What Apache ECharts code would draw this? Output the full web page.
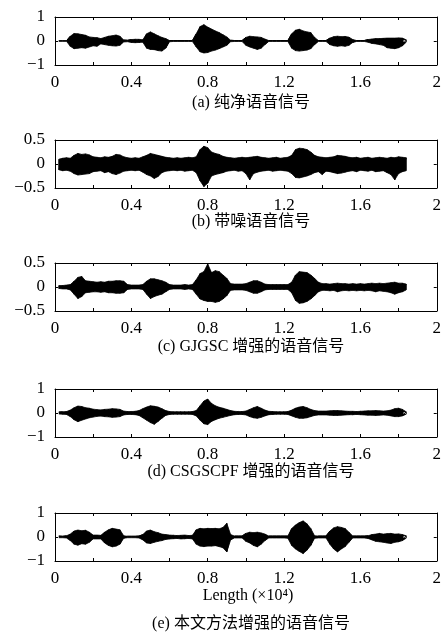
<!DOCTYPE html>
<html>
<head>
<meta charset="utf-8">
<script src="https://cdn.jsdelivr.net/npm/echarts@6/dist/echarts.min.js"></script>
<style>
html,body{margin:0;padding:0;background:#fff;}
#chart{width:444px;height:641px;}
</style>
</head>
<body>
<div id="chart"></div>
<script>
// Sample positions (x, in units of 10^4 samples)
const sampleX = [
  0.02,0.04,0.06,0.08,0.10,0.12,0.14,0.16,0.18,0.20,
  0.22,0.24,0.26,0.28,0.30,0.32,0.34,0.36,0.38,0.40,
  0.42,0.44,0.46,0.48,0.50,0.52,0.54,0.56,0.58,0.60,
  0.62,0.64,0.66,0.68,0.70,0.72,0.74,0.76,0.78,0.80,
  0.82,0.84,0.86,0.88,0.90,0.92,0.94,0.96,0.98,1.00,
  1.02,1.04,1.06,1.08,1.10,1.12,1.14,1.16,1.18,1.20,
  1.22,1.24,1.26,1.28,1.30,1.32,1.34,1.36,1.38,1.40,
  1.42,1.44,1.46,1.48,1.50,1.52,1.54,1.56,1.58,1.60,
  1.62,1.64,1.66,1.68,1.70,1.72,1.74,1.76,1.78,1.80,
  1.82,1.84
];

// (a) clean speech: upper / lower envelope
const cleanUpper = [
  0.01,0.01,0.01,0.20,0.31,0.30,0.27,0.24,0.17,0.15,
  0.14,0.10,0.15,0.20,0.22,0.25,0.20,0.04,0.03,0.06,
  0.07,0.07,0.05,0.30,0.38,0.30,0.22,0.15,0.10,0.02,
  0.02,0.02,0.02,0.02,0.02,0.02,0.30,0.60,0.68,0.58,
  0.50,0.42,0.35,0.26,0.17,0.03,0.02,0.02,0.02,0.15,
  0.20,0.18,0.17,0.15,0.08,0.02,0.02,0.02,0.02,0.02,
  0.02,0.30,0.45,0.49,0.42,0.38,0.35,0.15,0.02,0.02,
  0.02,0.12,0.18,0.20,0.18,0.19,0.16,0.06,0.02,0.02,
  0.02,0.06,0.08,0.10,0.10,0.11,0.12,0.12,0.12,0.13,
  0.12,0.05
];
const cleanLower = [
  -0.01,-0.01,-0.01,-0.22,-0.32,-0.30,-0.28,-0.30,-0.25,-0.20,
  -0.22,-0.12,-0.15,-0.18,-0.20,-0.21,-0.18,-0.04,-0.03,-0.06,
  -0.07,-0.06,-0.05,-0.30,-0.35,-0.36,-0.40,-0.42,-0.30,-0.03,
  -0.02,-0.02,-0.02,-0.02,-0.02,-0.02,-0.25,-0.45,-0.50,-0.48,
  -0.42,-0.38,-0.32,-0.25,-0.18,-0.03,-0.02,-0.02,-0.02,-0.18,
  -0.25,-0.30,-0.35,-0.30,-0.15,-0.02,-0.02,-0.02,-0.02,-0.02,
  -0.02,-0.30,-0.40,-0.42,-0.40,-0.38,-0.32,-0.15,-0.02,-0.02,
  -0.02,-0.15,-0.20,-0.22,-0.20,-0.22,-0.18,-0.06,-0.02,-0.02,
  -0.02,-0.05,-0.10,-0.12,-0.15,-0.18,-0.28,-0.30,-0.32,-0.28,
  -0.20,-0.05
];

// (b) noisy speech
const noisyUpper = [
  0.10,0.12,0.13,0.12,0.18,0.22,0.20,0.21,0.19,0.15,
  0.14,0.13,0.15,0.14,0.16,0.20,0.19,0.15,0.13,0.12,
  0.13,0.12,0.15,0.18,0.22,0.20,0.18,0.16,0.14,0.13,
  0.12,0.13,0.12,0.13,0.14,0.13,0.15,0.30,0.37,0.34,
  0.25,0.22,0.20,0.16,0.14,0.13,0.12,0.13,0.14,0.13,
  0.14,0.15,0.16,0.14,0.13,0.12,0.13,0.14,0.12,0.13,
  0.14,0.18,0.30,0.33,0.32,0.30,0.25,0.18,0.15,0.14,
  0.13,0.14,0.15,0.18,0.17,0.16,0.14,0.13,0.14,0.12,
  0.13,0.14,0.12,0.13,0.14,0.13,0.12,0.14,0.13,0.15,
  0.14,0.13
];
const noisyLower = [
  -0.12,-0.14,-0.13,-0.15,-0.20,-0.23,-0.22,-0.21,-0.20,-0.16,
  -0.15,-0.14,-0.18,-0.16,-0.20,-0.22,-0.19,-0.15,-0.14,-0.13,
  -0.14,-0.13,-0.17,-0.22,-0.25,-0.30,-0.26,-0.18,-0.15,-0.14,
  -0.13,-0.14,-0.13,-0.15,-0.14,-0.13,-0.18,-0.35,-0.47,-0.40,
  -0.25,-0.22,-0.20,-0.18,-0.15,-0.14,-0.13,-0.15,-0.14,-0.20,
  -0.33,-0.20,-0.17,-0.15,-0.14,-0.13,-0.15,-0.14,-0.13,-0.14,
  -0.15,-0.20,-0.28,-0.29,-0.27,-0.25,-0.22,-0.18,-0.16,-0.22,
  -0.15,-0.16,-0.18,-0.20,-0.19,-0.17,-0.15,-0.14,-0.16,-0.13,
  -0.14,-0.15,-0.13,-0.16,-0.15,-0.14,-0.18,-0.22,-0.33,-0.20,
  -0.16,-0.14
];

// (c) GJGSC enhanced
const gjgscUpper = [
  0.03,0.03,0.04,0.05,0.12,0.20,0.22,0.13,0.12,0.11,
  0.10,0.11,0.10,0.12,0.12,0.13,0.13,0.12,0.05,0.04,
  0.04,0.04,0.05,0.12,0.17,0.17,0.15,0.13,0.10,0.05,
  0.04,0.04,0.04,0.05,0.04,0.05,0.15,0.28,0.32,0.48,
  0.30,0.34,0.32,0.25,0.18,0.07,0.06,0.06,0.06,0.07,
  0.10,0.13,0.13,0.10,0.06,0.05,0.05,0.05,0.05,0.05,
  0.05,0.10,0.25,0.32,0.31,0.30,0.25,0.18,0.10,0.07,
  0.07,0.06,0.07,0.08,0.07,0.07,0.06,0.07,0.06,0.07,
  0.06,0.07,0.08,0.07,0.08,0.07,0.08,0.09,0.10,0.08,
  0.08,0.06
];
const gjgscLower = [
  -0.03,-0.04,-0.04,-0.06,-0.15,-0.24,-0.20,-0.12,-0.11,-0.10,
  -0.10,-0.11,-0.10,-0.12,-0.12,-0.13,-0.13,-0.12,-0.05,-0.04,
  -0.04,-0.04,-0.05,-0.15,-0.24,-0.20,-0.17,-0.15,-0.10,-0.05,
  -0.04,-0.04,-0.04,-0.05,-0.04,-0.05,-0.15,-0.25,-0.28,-0.30,
  -0.30,-0.32,-0.30,-0.25,-0.18,-0.07,-0.06,-0.06,-0.06,-0.07,
  -0.10,-0.13,-0.13,-0.10,-0.06,-0.05,-0.05,-0.05,-0.05,-0.05,
  -0.05,-0.12,-0.28,-0.34,-0.33,-0.30,-0.25,-0.18,-0.10,-0.07,
  -0.07,-0.08,-0.07,-0.10,-0.08,-0.07,-0.08,-0.07,-0.08,-0.07,
  -0.08,-0.07,-0.08,-0.10,-0.08,-0.09,-0.10,-0.12,-0.15,-0.12,
  -0.10,-0.06
];

// (d) CSGSCPF enhanced
const csgUpper = [
  0.04,0.05,0.06,0.12,0.22,0.29,0.27,0.22,0.20,0.16,
  0.14,0.13,0.15,0.16,0.18,0.17,0.15,0.08,0.06,0.06,
  0.07,0.10,0.18,0.25,0.30,0.28,0.25,0.18,0.10,0.06,
  0.05,0.05,0.05,0.05,0.05,0.06,0.10,0.30,0.50,0.58,
  0.40,0.30,0.24,0.20,0.15,0.10,0.07,0.06,0.06,0.08,
  0.15,0.22,0.27,0.20,0.12,0.07,0.06,0.05,0.05,0.05,
  0.06,0.12,0.20,0.25,0.27,0.22,0.15,0.10,0.08,0.08,
  0.08,0.09,0.10,0.10,0.09,0.08,0.07,0.07,0.06,0.07,
  0.08,0.09,0.09,0.10,0.09,0.08,0.09,0.12,0.18,0.20,
  0.15,0.05
];
const csgLower = [
  -0.04,-0.05,-0.06,-0.15,-0.28,-0.36,-0.30,-0.25,-0.20,-0.17,
  -0.14,-0.13,-0.15,-0.16,-0.18,-0.17,-0.15,-0.08,-0.06,-0.06,
  -0.07,-0.10,-0.20,-0.30,-0.40,-0.47,-0.35,-0.22,-0.10,-0.06,
  -0.05,-0.05,-0.05,-0.05,-0.05,-0.06,-0.12,-0.30,-0.45,-0.48,
  -0.35,-0.28,-0.22,-0.18,-0.14,-0.10,-0.07,-0.06,-0.06,-0.08,
  -0.15,-0.20,-0.22,-0.18,-0.12,-0.07,-0.06,-0.05,-0.05,-0.05,
  -0.06,-0.12,-0.18,-0.22,-0.22,-0.20,-0.15,-0.10,-0.08,-0.08,
  -0.08,-0.09,-0.10,-0.10,-0.09,-0.08,-0.07,-0.07,-0.06,-0.07,
  -0.08,-0.09,-0.09,-0.10,-0.09,-0.08,-0.09,-0.12,-0.15,-0.15,
  -0.12,-0.05
];

// (e) proposed method enhanced
const oursUpper = [
  0.04,0.03,0.05,0.12,0.25,0.29,0.26,0.28,0.20,0.08,
  0.08,0.07,0.20,0.30,0.36,0.33,0.30,0.05,0.03,0.03,
  0.03,0.04,0.10,0.25,0.29,0.22,0.18,0.12,0.10,0.08,
  0.07,0.06,0.07,0.08,0.06,0.07,0.30,0.36,0.34,0.36,
  0.35,0.36,0.34,0.40,0.57,0.10,0.04,0.04,0.04,0.15,
  0.20,0.18,0.20,0.17,0.12,0.04,0.04,0.04,0.04,0.04,
  0.04,0.35,0.50,0.60,0.67,0.55,0.35,0.05,0.04,0.04,
  0.04,0.25,0.38,0.43,0.40,0.35,0.20,0.04,0.04,0.04,
  0.04,0.05,0.10,0.12,0.15,0.12,0.14,0.15,0.12,0.13,
  0.10,0.05
];
const oursLower = [
  -0.03,-0.03,-0.04,-0.15,-0.30,-0.34,-0.28,-0.30,-0.22,-0.08,
  -0.08,-0.08,-0.25,-0.35,-0.41,-0.38,-0.30,-0.05,-0.03,-0.03,
  -0.03,-0.04,-0.12,-0.25,-0.27,-0.22,-0.18,-0.15,-0.10,-0.08,
  -0.07,-0.06,-0.08,-0.07,-0.06,-0.08,-0.30,-0.38,-0.40,-0.38,
  -0.38,-0.36,-0.40,-0.45,-0.62,-0.12,-0.04,-0.04,-0.04,-0.18,
  -0.25,-0.35,-0.41,-0.30,-0.15,-0.04,-0.04,-0.04,-0.04,-0.04,
  -0.05,-0.35,-0.50,-0.60,-0.69,-0.55,-0.35,-0.05,-0.04,-0.04,
  -0.04,-0.30,-0.50,-0.62,-0.50,-0.40,-0.22,-0.04,-0.04,-0.04,
  -0.04,-0.06,-0.12,-0.18,-0.20,-0.22,-0.25,-0.27,-0.22,-0.20,
  -0.15,-0.05
];

const captions = [
  '(a) 纯净语音信号',
  '(b) 带噪语音信号',
  '(c) GJGSC 增强的语音信号',
  '(d) CSGSCPF 增强的语音信号',
  '(e) 本文方法增强的语音信号'
];
const xAxisTitle = 'Length (×10⁴)';
const yRanges = [1, 0.5, 0.5, 1, 1];
const panels = [
  [cleanUpper, cleanLower],
  [noisyUpper, noisyLower],
  [gjgscUpper, gjgscLower],
  [csgUpper, csgLower],
  [oursUpper, oursLower]
];

// ---------- layout ----------
const serif = '"Liberation Serif", "Noto Sans CJK SC", serif';
const gridTops = [17, 140, 263, 389, 513];
const captionY = [103, 222, 347, 472, 624];
const plotH = 48;

function fmtNum(v) {
  const r = Math.round(v * 100) / 100;
  const s = String(Math.abs(r));
  return (r < 0 ? '\u2212' : '') + s;
}

const grid = [], xAxis = [], yAxis = [], series = [], graphic = [];
const lineBlack = { color: '#000', width: 1 };

panels.forEach((p, k) => {
  grid.push({ left: 55, width: 382, top: gridTops[k], height: plotH });
  const R = yRanges[k];
  xAxis.push({
    type: 'value', gridIndex: k, min: 0, max: 2, interval: 0.2, position: 'bottom',
    axisLine: { show: true, onZero: false, lineStyle: lineBlack },
    axisTick: { show: true, inside: true, length: 3, lineStyle: lineBlack },
    splitLine: { show: false },
    axisLabel: {
      color: '#000', fontFamily: serif, fontSize: 17, margin: 9,
      formatter: v => (Math.round(v * 10) % 4 === 0 ? fmtNum(v) : '')
    }
  });
  xAxis.push({
    type: 'value', gridIndex: k, min: 0, max: 2, interval: 0.2, position: 'top',
    axisLine: { show: true, onZero: false, lineStyle: lineBlack },
    axisTick: { show: true, inside: true, length: 3, lineStyle: lineBlack },
    splitLine: { show: false }, axisLabel: { show: false }
  });
  yAxis.push({
    type: 'value', gridIndex: k, min: -R, max: R, interval: R, position: 'left',
    axisLine: { show: true, onZero: false, lineStyle: lineBlack },
    axisTick: { show: true, inside: true, length: 3, lineStyle: lineBlack },
    splitLine: { show: false },
    axisLabel: { color: '#000', fontFamily: serif, fontSize: 17, margin: 10, formatter: fmtNum }
  });
  yAxis.push({
    type: 'value', gridIndex: k, min: -R, max: R, interval: R, position: 'right',
    axisLine: { show: true, onZero: false, lineStyle: lineBlack },
    axisTick: { show: true, inside: true, length: 3, lineStyle: lineBlack },
    splitLine: { show: false }, axisLabel: { show: false }
  });
  // filled envelope (upper and lower halves) + zigzag trace
  [0, 1].forEach(h => {
    series.push({
      type: 'line', xAxisIndex: 2 * k, yAxisIndex: 2 * k,
      data: sampleX.map((x, i) => [x, p[h][i]]),
      showSymbol: false, symbol: 'none', silent: true,
      lineStyle: { color: '#000', width: 0.8 },
      areaStyle: { color: '#000', opacity: 1, origin: 0 },
      animation: false, z: 2
    });
  });
  const zig = [];
  sampleX.forEach((x, i) => { zig.push([x, p[0][i]]); zig.push([x, p[1][i]]); });
  series.push({
    type: 'line', xAxisIndex: 2 * k, yAxisIndex: 2 * k, data: zig,
    showSymbol: false, symbol: 'none', silent: true,
    lineStyle: { color: '#000', width: 1 }, animation: false, z: 3
  });
  graphic.push({
    type: 'text',
    style: {
      text: captions[k], x: 251, y: captionY[k], fill: '#000',
      font: '16px ' + serif, textAlign: 'center', textVerticalAlign: 'middle'
    }
  });
});
graphic.push({
  type: 'text',
  style: {
    text: xAxisTitle, x: 248, y: 596, fill: '#000',
    font: '16px ' + serif, textAlign: 'center', textVerticalAlign: 'middle'
  }
});

const chart = echarts.init(document.getElementById('chart'), null, { renderer: 'canvas' });
chart.setOption({
  animation: false,
  backgroundColor: '#fff',
  grid, xAxis, yAxis, series, graphic
});
</script>
</body>
</html>
